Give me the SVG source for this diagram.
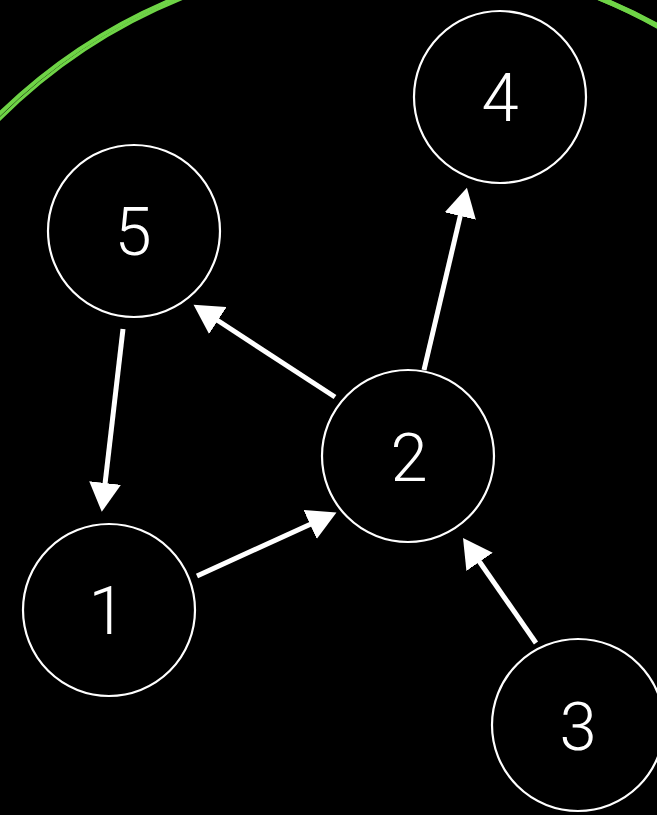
<svg xmlns="http://www.w3.org/2000/svg" width="657" height="815" viewBox="0 0 657 815">
  <style>
    .node circle { fill: #000; stroke: #fff; stroke-width: 2.2; }
    .node text { fill: #fff; font-family: Roboto, "Liberation Sans", sans-serif; font-weight: 300; font-size: 67px; text-anchor: middle; }
    .edge { stroke: #fff; stroke-width: 5; fill: none; marker-end: url(#head); }
    .ring { fill: none; stroke: #6fd447; }
  </style>
  <defs>
    <marker id="head" markerUnits="userSpaceOnUse" markerWidth="30" markerHeight="32" refX="1" refY="16" orient="auto" viewBox="0 0 30 32">
      <path d="M0,0 L29,16 L0,32 Z" fill="#fff"/>
    </marker>
  </defs>
  <rect width="657" height="815" fill="#000"/>

  <!-- hand-drawn green ring: several loose overlapping strokes -->
  <g id="ring">
    <circle class="ring" cx="388" cy="513" r="557" stroke-width="4"/>
    <circle class="ring" cx="390" cy="511" r="553" stroke-width="3"/>
    <circle class="ring" cx="386" cy="512" r="555" stroke-width="2"/>
    <circle class="ring" cx="389" cy="514" r="559" stroke-width="1.5"/>
  </g>

  <g id="connectors">
    <line class="edge" x1="335" y1="397" x2="217" y2="320"/>
    <line class="edge" x1="123" y1="329" x2="105" y2="484"/>
    <line class="edge" x1="197" y1="576" x2="311" y2="524"/>
    <line class="edge" x1="424" y1="370" x2="460.5" y2="215"/>
    <line class="edge" x1="536" y1="643" x2="479" y2="561"/>
  </g>

  <g id="node-4" class="node"><circle cx="500" cy="97" r="86"/><text x="500" y="121">4</text></g>
  <g id="node-5" class="node"><circle cx="134" cy="231" r="86"/><text x="133" y="255">5</text></g>
  <g id="node-2" class="node"><circle cx="408" cy="456" r="86"/><text x="409" y="481">2</text></g>
  <g id="node-1" class="node"><circle cx="109" cy="610" r="86"/><text x="107" y="634">1</text></g>
  <g id="node-3" class="node"><circle cx="578" cy="725" r="86"/><text x="578" y="750">3</text></g>
</svg>
